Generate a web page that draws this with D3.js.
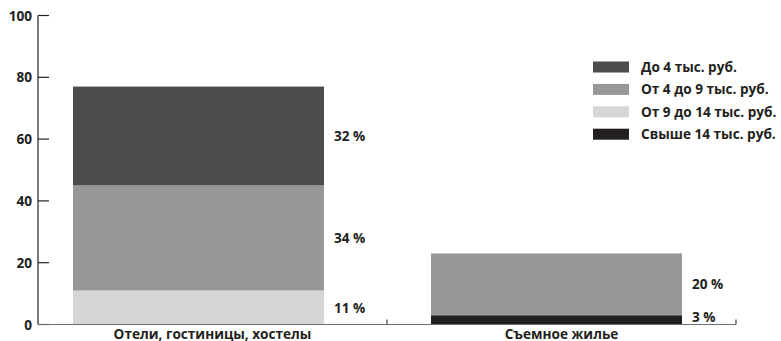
<!DOCTYPE html>
<html><head><meta charset="utf-8">
<script src="https://cdn.jsdelivr.net/npm/d3@7"></script>
<style>
html,body{margin:0;padding:0;background:#fff;}
text{font-family:"Open Sans",sans-serif;font-weight:700;fill:#231f20;}
</style></head>
<body><svg id="c" width="781" height="341"></svg>
<script>
const categories = ["Отели, гостиницы, хостелы", "Съемное жилье"];
const seriesNames = ["До 4 тыс. руб.", "От 4 до 9 тыс. руб.", "От 9 до 14 тыс. руб.", "Свыше 14 тыс. руб."];
const do4 = [32, 0];
const ot4do9 = [34, 20];
const ot9do14 = [11, 0];
const svyshe14 = [0, 3];
const yTicks = [0, 20, 40, 60, 80, 100];

const colors = {"До 4 тыс. руб.":"#4d4b4c","От 4 до 9 тыс. руб.":"#979798","От 9 до 14 тыс. руб.":"#d6d6d6","Свыше 14 тыс. руб.":"#231f20"};
const seriesVals = {"До 4 тыс. руб.":do4,"От 4 до 9 тыс. руб.":ot4do9,"От 9 до 14 тыс. руб.":ot9do14,"Свыше 14 тыс. руб.":svyshe14};
const rows = categories.map((c,i)=>{const r={cat:c}; seriesNames.forEach(s=>r[s]=seriesVals[s][i]); return r;});
const stackKeys = ["Свыше 14 тыс. руб.","От 9 до 14 тыс. руб.","От 4 до 9 тыс. руб.","До 4 тыс. руб."];
const stacked = d3.stack().keys(stackKeys)(rows);

const svg = d3.select("#c");
const y = d3.scaleLinear().domain([0,100]).range([324.5,15.5]);
const xAxisScale = d3.scaleBand().domain(categories).range([38,736]);
const xBar = d3.scaleBand().domain(categories).range([73,682]).paddingInner(0.299).paddingOuter(0);
const FS = 13.6;

// bars
stacked.forEach(layer=>{
  svg.append("g").attr("fill",colors[layer.key]).selectAll("rect").data(layer.filter(d=>d[1]-d[0]>0)).join("rect")
    .attr("x",d=>xBar(d.data.cat)).attr("width",xBar.bandwidth())
    .attr("y",d=>y(d[1])).attr("height",d=>y(d[0])-y(d[1]));
});

// percent labels
stacked.forEach(layer=>{
  svg.append("g").selectAll("text").data(layer.filter(d=>d[1]-d[0]>0)).join("text")
    .attr("x",d=>xBar(d.data.cat)+xBar.bandwidth()+10)
    .attr("y",d=>Math.min(y((d[0]+d[1])/2)+5, y(0)-2.5))
    .attr("font-size",FS)
    .text(d=>(d[1]-d[0])+" %");
});

// y axis
const ya = svg.append("g");
ya.append("line").attr("x1",38).attr("x2",38).attr("y1",y(0)).attr("y2",y(100)).attr("stroke","#231f20").attr("stroke-width",1.2);
ya.selectAll("line.t").data(yTicks).join("line").attr("class","t")
  .attr("x1",38).attr("x2",49).attr("y1",d=>y(d)).attr("y2",d=>y(d)).attr("stroke","#231f20").attr("stroke-width",1.2);
ya.selectAll("text").data(yTicks).join("text")
  .attr("x",32).attr("y",d=>y(d)+5).attr("text-anchor","end").attr("font-size",FS).text(d=>d);

// x axis
const xa = svg.append("g");
xa.append("line").attr("x1",38).attr("x2",736).attr("y1",y(0)).attr("y2",y(0)).attr("stroke","#6d6e71").attr("stroke-width",1.2);
xa.selectAll("line.t").data(categories).join("line").attr("class","t")
  .attr("x1",d=>xAxisScale(d)+xAxisScale.bandwidth()).attr("x2",d=>xAxisScale(d)+xAxisScale.bandwidth())
  .attr("y1",y(0)).attr("y2",y(0)-5).attr("stroke","#231f20").attr("stroke-width",1);
xa.selectAll("text").data(categories).join("text")
  .attr("x",d=>xAxisScale(d)+xAxisScale.bandwidth()/2).attr("y",338.5).attr("text-anchor","middle").attr("font-size",FS).text(d=>d);

// legend
const lg = svg.append("g").selectAll("g").data(seriesNames).join("g")
  .attr("transform",(d,i)=>`translate(593,${67+i*22.4})`);
lg.append("rect").attr("x",0).attr("y",-5.5).attr("width",36).attr("height",11).attr("fill",d=>colors[d]);
lg.append("text").attr("x",48).attr("y",5).attr("font-size",FS).text(d=>d);
</script></body></html>
